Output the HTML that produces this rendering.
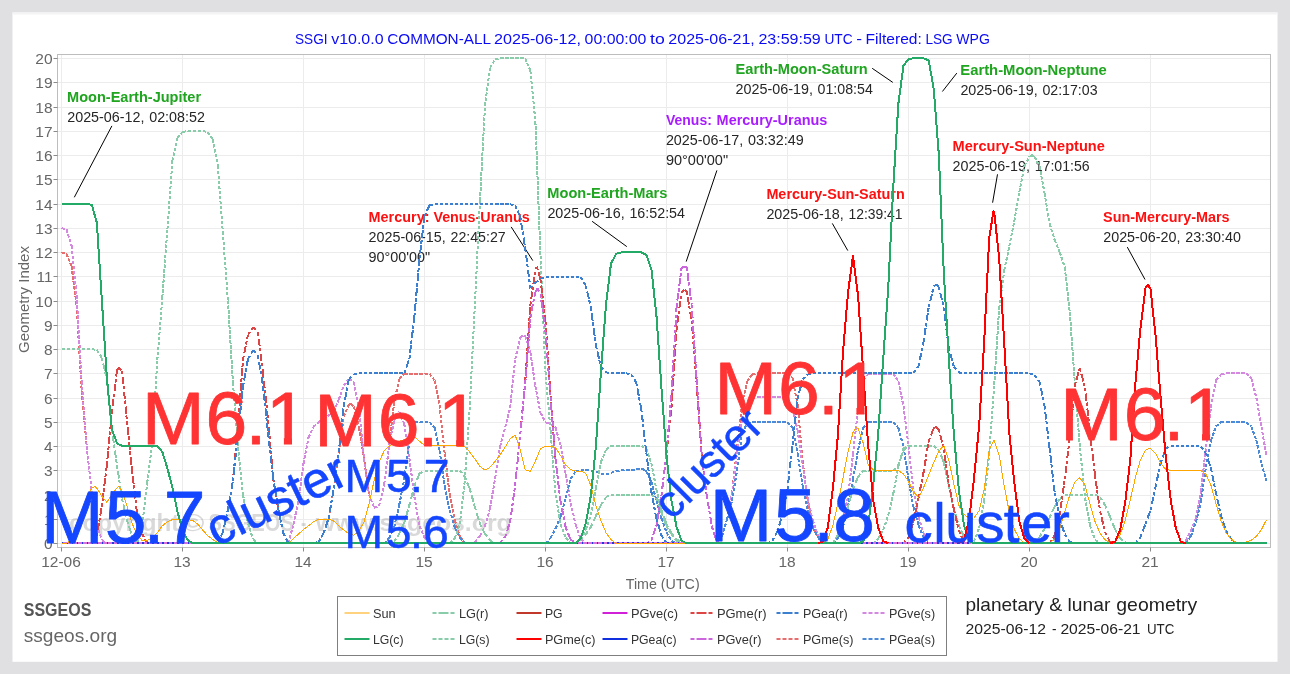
<!DOCTYPE html>
<html lang="en"><head><meta charset="utf-8"><title>SSGI planetary &amp; lunar geometry</title>
<style>html,body{margin:0;padding:0;background:#e0dfe2}body{width:1290px;height:674px;overflow:hidden}svg{display:block}text{font-family:"Liberation Sans", sans-serif;white-space:pre}</style></head><body>
<svg width="1290" height="674" viewBox="0 0 1290 674">
<rect x="0" y="0" width="1290" height="674" fill="#e0dfe2"/>
<rect x="12.5" y="12.5" width="1265" height="649.3" fill="#ffffff"/>
<rect x="12.5" y="12.5" width="1265" height="2" fill="#f4f4f5"/>
<text y="44.0" font-size="15" fill="#0a0af5"><tspan x="295.0" textLength="32.6" lengthAdjust="spacingAndGlyphs">SSGI</tspan> <tspan x="331.2" textLength="52.4" lengthAdjust="spacingAndGlyphs">v10.0.0</tspan> <tspan x="387.2" textLength="103.3" lengthAdjust="spacingAndGlyphs">COMMON-ALL</tspan> <tspan x="494.1" textLength="86.9" lengthAdjust="spacingAndGlyphs">2025-06-12,</tspan> <tspan x="584.6" textLength="61.8" lengthAdjust="spacingAndGlyphs">00:00:00</tspan> <tspan x="650.0" textLength="14.7" lengthAdjust="spacingAndGlyphs">to</tspan> <tspan x="668.3" textLength="86.5" lengthAdjust="spacingAndGlyphs">2025-06-21,</tspan> <tspan x="758.4" textLength="62.4" lengthAdjust="spacingAndGlyphs">23:59:59</tspan> <tspan x="824.4" textLength="28.2" lengthAdjust="spacingAndGlyphs">UTC</tspan> <tspan x="856.2" textLength="5.8" lengthAdjust="spacingAndGlyphs">-</tspan> <tspan x="865.6" textLength="56.2" lengthAdjust="spacingAndGlyphs">Filtered:</tspan> <tspan x="925.4" textLength="27.3" lengthAdjust="spacingAndGlyphs">LSG</tspan> <tspan x="956.3" textLength="33.6" lengthAdjust="spacingAndGlyphs">WPG</tspan></text>
<g stroke="#ececec" stroke-width="1" shape-rendering="crispEdges">
<line x1="58" y1="543.5" x2="1270" y2="543.5"/>
<line x1="58" y1="519.5" x2="1270" y2="519.5"/>
<line x1="58" y1="495.5" x2="1270" y2="495.5"/>
<line x1="58" y1="470.5" x2="1270" y2="470.5"/>
<line x1="58" y1="446.5" x2="1270" y2="446.5"/>
<line x1="58" y1="422.5" x2="1270" y2="422.5"/>
<line x1="58" y1="398.5" x2="1270" y2="398.5"/>
<line x1="58" y1="373.5" x2="1270" y2="373.5"/>
<line x1="58" y1="349.5" x2="1270" y2="349.5"/>
<line x1="58" y1="325.5" x2="1270" y2="325.5"/>
<line x1="58" y1="301.5" x2="1270" y2="301.5"/>
<line x1="58" y1="276.5" x2="1270" y2="276.5"/>
<line x1="58" y1="252.5" x2="1270" y2="252.5"/>
<line x1="58" y1="228.5" x2="1270" y2="228.5"/>
<line x1="58" y1="204.5" x2="1270" y2="204.5"/>
<line x1="58" y1="179.5" x2="1270" y2="179.5"/>
<line x1="58" y1="155.5" x2="1270" y2="155.5"/>
<line x1="58" y1="131.5" x2="1270" y2="131.5"/>
<line x1="58" y1="107.5" x2="1270" y2="107.5"/>
<line x1="58" y1="82.5" x2="1270" y2="82.5"/>
<line x1="58" y1="58.5" x2="1270" y2="58.5"/>
<line x1="61.5" y1="55" x2="61.5" y2="547"/>
<line x1="182.5" y1="55" x2="182.5" y2="547"/>
<line x1="303.5" y1="55" x2="303.5" y2="547"/>
<line x1="424.5" y1="55" x2="424.5" y2="547"/>
<line x1="545.5" y1="55" x2="545.5" y2="547"/>
<line x1="666.5" y1="55" x2="666.5" y2="547"/>
<line x1="787.5" y1="55" x2="787.5" y2="547"/>
<line x1="908.5" y1="55" x2="908.5" y2="547"/>
<line x1="1029.5" y1="55" x2="1029.5" y2="547"/>
<line x1="1150.5" y1="55" x2="1150.5" y2="547"/>
</g>
<text y="531.0" font-size="23" fill="#808080" font-weight="bold" fill-opacity="0.3"><tspan x="69.0" textLength="110.3" lengthAdjust="spacingAndGlyphs">copyright</tspan> <tspan x="181.6" textLength="22.9" lengthAdjust="spacingAndGlyphs">©</tspan> <tspan x="208.5" textLength="85.5" lengthAdjust="spacingAndGlyphs">SSGEOS</tspan> <tspan x="300.9" textLength="5.2" lengthAdjust="spacingAndGlyphs">-</tspan> <tspan x="315.7" textLength="196.0" lengthAdjust="spacingAndGlyphs">www.ssgeos.org</tspan></text>
<line x1="111.9" y1="125.9" x2="74.3" y2="197.3" stroke="#000" stroke-width="1"/>
<text x="67.1" y="101.8" font-size="14.5" fill="#1fa51f" font-weight="bold" textLength="134.0" lengthAdjust="spacingAndGlyphs">Moon-Earth-Jupiter</text>
<text y="121.8" font-size="14.5" fill="#262626"><tspan x="67.2" textLength="77.3" lengthAdjust="spacingAndGlyphs">2025-06-12,</tspan> <tspan x="149.2" textLength="55.7" lengthAdjust="spacingAndGlyphs">02:08:52</tspan></text>
<line x1="511.2" y1="226.9" x2="532.8" y2="260.6" stroke="#000" stroke-width="1"/>
<text y="221.8" font-size="14.5" fill="#ff1010" font-weight="bold"><tspan x="368.6" textLength="60.9" lengthAdjust="spacingAndGlyphs">Mercury:</tspan> <tspan x="433.4" textLength="96.3" lengthAdjust="spacingAndGlyphs">Venus-Uranus</tspan></text>
<text y="241.8" font-size="14.5" fill="#262626"><tspan x="368.5" textLength="77.3" lengthAdjust="spacingAndGlyphs">2025-06-15,</tspan> <tspan x="450.5" textLength="55.2" lengthAdjust="spacingAndGlyphs">22:45:27</tspan></text>
<text x="368.5" y="262.0" font-size="14.5" fill="#262626" textLength="61.6" lengthAdjust="spacingAndGlyphs">90°00'00"</text>
<line x1="592.1" y1="221.3" x2="626.8" y2="246.6" stroke="#000" stroke-width="1"/>
<text x="547.3" y="197.5" font-size="14.5" fill="#1fa51f" font-weight="bold" textLength="120.1" lengthAdjust="spacingAndGlyphs">Moon-Earth-Mars</text>
<text y="217.5" font-size="14.5" fill="#262626"><tspan x="547.4" textLength="77.3" lengthAdjust="spacingAndGlyphs">2025-06-16,</tspan> <tspan x="629.4" textLength="55.6" lengthAdjust="spacingAndGlyphs">16:52:54</tspan></text>
<line x1="716.9" y1="170.4" x2="686.2" y2="261.6" stroke="#000" stroke-width="1"/>
<text y="124.7" font-size="14.5" fill="#a81cff" font-weight="bold"><tspan x="666.0" textLength="45.8" lengthAdjust="spacingAndGlyphs">Venus:</tspan> <tspan x="716.6" textLength="110.8" lengthAdjust="spacingAndGlyphs">Mercury-Uranus</tspan></text>
<text y="144.7" font-size="14.5" fill="#262626"><tspan x="665.9" textLength="77.3" lengthAdjust="spacingAndGlyphs">2025-06-17,</tspan> <tspan x="747.9" textLength="55.9" lengthAdjust="spacingAndGlyphs">03:32:49</tspan></text>
<text x="665.9" y="164.9" font-size="14.5" fill="#262626" textLength="62.2" lengthAdjust="spacingAndGlyphs">90°00'00"</text>
<line x1="872.2" y1="68.3" x2="892.8" y2="82.4" stroke="#000" stroke-width="1"/>
<text x="735.6" y="73.7" font-size="14.5" fill="#1fa51f" font-weight="bold" textLength="132.2" lengthAdjust="spacingAndGlyphs">Earth-Moon-Saturn</text>
<text y="93.7" font-size="14.5" fill="#262626"><tspan x="735.6" textLength="77.3" lengthAdjust="spacingAndGlyphs">2025-06-19,</tspan> <tspan x="817.6" textLength="55.2" lengthAdjust="spacingAndGlyphs">01:08:54</tspan></text>
<line x1="956.8" y1="73.1" x2="942.4" y2="91.5" stroke="#000" stroke-width="1"/>
<text x="960.3" y="74.7" font-size="14.5" fill="#1fa51f" font-weight="bold" textLength="146.5" lengthAdjust="spacingAndGlyphs">Earth-Moon-Neptune</text>
<text y="94.7" font-size="14.5" fill="#262626"><tspan x="960.4" textLength="77.3" lengthAdjust="spacingAndGlyphs">2025-06-19,</tspan> <tspan x="1042.4" textLength="55.2" lengthAdjust="spacingAndGlyphs">02:17:03</tspan></text>
<line x1="997.5" y1="174.3" x2="992.6" y2="202.7" stroke="#000" stroke-width="1"/>
<text x="952.6" y="150.7" font-size="14.5" fill="#ff1010" font-weight="bold" textLength="152.2" lengthAdjust="spacingAndGlyphs">Mercury-Sun-Neptune</text>
<text y="170.7" font-size="14.5" fill="#262626"><tspan x="952.6" textLength="77.3" lengthAdjust="spacingAndGlyphs">2025-06-19,</tspan> <tspan x="1034.7" textLength="55.0" lengthAdjust="spacingAndGlyphs">17:01:56</tspan></text>
<line x1="832.3" y1="223.4" x2="847.8" y2="250.6" stroke="#000" stroke-width="1"/>
<text x="766.4" y="198.5" font-size="14.5" fill="#ff1010" font-weight="bold" textLength="138.3" lengthAdjust="spacingAndGlyphs">Mercury-Sun-Saturn</text>
<text y="218.5" font-size="14.5" fill="#262626"><tspan x="766.4" textLength="77.3" lengthAdjust="spacingAndGlyphs">2025-06-18,</tspan> <tspan x="848.4" textLength="54.2" lengthAdjust="spacingAndGlyphs">12:39:41</tspan></text>
<line x1="1127.3" y1="247.1" x2="1145.0" y2="279.5" stroke="#000" stroke-width="1"/>
<text x="1103.1" y="221.5" font-size="14.5" fill="#ff1010" font-weight="bold" textLength="126.5" lengthAdjust="spacingAndGlyphs">Sun-Mercury-Mars</text>
<text y="241.5" font-size="14.5" fill="#262626"><tspan x="1103.2" textLength="77.3" lengthAdjust="spacingAndGlyphs">2025-06-20,</tspan> <tspan x="1185.2" textLength="55.7" lengthAdjust="spacingAndGlyphs">23:30:40</tspan></text>
<g fill="none" shape-rendering="crispEdges">
<path d="M61.5 252.3L66.5 253.9M66.5 253.9L71.6 266.4M71.6 266.4L76.6 305.8M76.6 305.8L81.7 391.4M81.7 391.4L86.7 446.2M86.7 446.2L91.8 493.1M91.8 493.1L96.8 524.9M96.8 524.9L101.8 540.1M101.8 540.1L106.9 543.3M313.6 543.3L318.6 541.7M318.6 541.7L323.7 533.1M323.7 533.1L328.7 518.1M328.7 518.1L333.8 488.1M333.8 488.1L338.8 451.6M338.8 451.6L343.8 416.6M343.8 416.6L348.9 404.4M348.9 404.4L351.0 403.5M351.0 403.5L353.9 406.6M353.9 406.6L359.0 427.4M359.0 427.4L364.0 457.5M364.0 457.5L369.0 494.4M369.0 494.4L374.1 507.6M374.1 507.6L379.1 506.0M379.1 506.0L384.2 484.3M384.2 484.3L389.2 445.5M389.2 445.5L394.2 402.0M394.2 402.0L399.3 378.7M399.3 378.7L404.3 373.9M404.3 373.9L409.4 373.5M409.4 373.5L414.4 373.5M414.4 373.5L419.5 373.5M419.5 373.5L424.5 373.5M424.5 373.5L429.5 373.7M429.5 373.7L434.6 380.6M434.6 380.6L439.6 405.1M439.6 405.1L444.7 453.5M444.7 453.5L449.7 494.5M449.7 494.5L454.8 520.2M454.8 520.2L459.8 536.5M459.8 536.5L464.8 543.2M464.8 543.2L469.9 543.3M716.9 543.3L722.0 536.4M722.0 536.4L727.0 519.5M727.0 519.5L732.0 493.9M732.0 493.9L737.1 447.3M737.1 447.3L742.1 403.3M742.1 403.3L747.2 381.6M747.2 381.6L752.2 374.3M752.2 374.3L757.2 373.3M757.2 373.3L762.3 373.3M762.3 373.3L767.3 373.3M767.3 373.3L772.4 373.3M772.4 373.3L777.4 373.3M777.4 373.3L782.5 373.3M782.5 373.3L787.5 373.4M787.5 373.4L792.5 378.0M792.5 378.0L797.6 405.0M797.6 405.0L802.6 460.4M802.6 460.4L807.7 500.9M807.7 500.9L812.7 524.9M812.7 524.9L817.8 537.0M817.8 537.0L822.8 543.3" stroke="#e66e6e" stroke-width="2.0" stroke-dasharray="3.4 1.6"/>
<path d="M61.5 228.0L66.5 229.4M66.5 229.4L71.6 245.8M71.6 245.8L76.6 295.2M76.6 295.2L81.7 382.1M81.7 382.1L86.7 446.2M86.7 446.2L91.8 493.1M91.8 493.1L96.8 524.9M96.8 524.9L101.8 540.1M101.8 540.1L106.9 543.3M283.3 543.3L288.4 543.2M288.4 543.2L293.4 524.5M293.4 524.5L298.5 500.6M298.5 500.6L303.5 463.6M303.5 463.6L308.5 437.6M308.5 437.6L313.6 426.7M313.6 426.7L318.6 422.2M318.6 422.2L323.7 418.9M323.7 418.9L328.7 415.6M328.7 415.6L333.8 411.4M333.8 411.4L338.8 399.5M338.8 399.5L343.8 385.6M343.8 385.6L348.9 378.4M348.9 378.4L349.3 378.3M349.3 378.3L353.9 382.2M353.9 382.2L359.0 408.6M359.0 408.6L364.0 458.9M364.0 458.9L369.0 494.4M369.0 494.4L374.1 507.6M374.1 507.6L379.1 506.0M379.1 506.0L384.2 484.3M384.2 484.3L389.2 444.3M389.2 444.3L394.2 420.7M394.2 420.7L398.7 411.5M398.7 411.5L399.3 411.7M399.3 411.7L404.3 424.0M404.3 424.0L409.4 458.2M409.4 458.2L414.4 496.9M414.4 496.9L419.5 526.2M419.5 526.2L424.5 537.4M424.5 537.4L429.5 543.3M469.9 543.3L474.9 542.0M474.9 542.0L480.0 535.8M480.0 535.8L485.0 526.1M485.0 526.1L490.0 508.5M490.0 508.5L495.1 478.2M495.1 478.2L500.1 446.6M500.1 446.6L505.2 427.4M505.2 427.4L510.2 407.8M510.2 407.8L515.2 359.0M515.2 359.0L520.3 337.2M520.3 337.2L523.7 335.3M523.7 335.3L525.3 336.2M525.3 336.2L530.4 352.4M530.4 352.4L535.4 386.3M535.4 386.3L540.5 412.8M540.5 412.8L545.5 422.2M545.5 422.2L550.5 424.3M550.5 424.3L555.6 427.5M555.6 427.5L560.6 445.6M560.6 445.6L565.7 474.2M565.7 474.2L570.7 503.1M570.7 503.1L575.8 525.3M575.8 525.3L580.8 539.0M580.8 539.0L585.8 543.3M716.9 543.3L722.0 536.4M722.0 536.4L727.0 519.5M727.0 519.5L732.0 494.0M732.0 494.0L737.1 452.3M737.1 452.3L742.1 419.9M742.1 419.9L747.2 404.6M747.2 404.6L752.2 398.3M752.2 398.3L757.2 396.8M757.2 396.8L762.3 396.8M762.3 396.8L767.3 396.8M767.3 396.8L772.4 396.8M772.4 396.8L777.4 396.8M777.4 396.8L782.5 396.8M782.5 396.8L787.5 398.5M787.5 398.5L792.5 408.6M792.5 408.6L797.6 430.1M797.6 430.1L802.6 465.6M802.6 465.6L807.7 498.3M807.7 498.3L812.7 520.2M812.7 520.2L817.8 535.2M817.8 535.2L822.8 543.3M832.9 543.3L837.9 535.1M837.9 535.1L843.0 520.5M843.0 520.5L848.0 496.3M848.0 496.3L853.0 454.3M853.0 454.3L858.1 409.2M858.1 409.2L863.1 380.1M863.1 380.1L868.2 374.1M868.2 374.1L873.2 373.5M873.2 373.5L878.2 373.5M878.2 373.5L883.3 373.5M883.3 373.5L888.3 373.5M888.3 373.5L893.4 373.5M893.4 373.5L898.4 381.5M898.4 381.5L903.5 406.2M903.5 406.2L908.5 446.1M908.5 446.1L913.5 491.1M913.5 491.1L918.6 517.3M918.6 517.3L923.6 533.3M923.6 533.3L928.7 543.3M1180.8 543.3L1185.8 540.7M1185.8 540.7L1190.8 530.7M1190.8 530.7L1195.9 518.4M1195.9 518.4L1200.9 491.6M1200.9 491.6L1206.0 447.3M1206.0 447.3L1211.0 407.1M1211.0 407.1L1216.0 380.0M1216.0 380.0L1221.1 374.4M1221.1 374.4L1226.1 373.3M1226.1 373.3L1231.2 373.3M1231.2 373.3L1236.2 373.3M1236.2 373.3L1241.2 373.3M1241.2 373.3L1246.3 373.5M1246.3 373.5L1251.3 378.4M1251.3 378.4L1256.4 397.8M1256.4 397.8L1261.4 426.7M1261.4 426.7L1266.5 455.7" stroke="#d488e0" stroke-width="2.0" stroke-dasharray="3.4 1.6"/>
<path d="M384.2 543.3L389.2 538.2M389.2 538.2L394.2 527.2M394.2 527.2L399.3 504.7M399.3 504.7L404.3 478.9M404.3 478.9L409.4 440.8M409.4 440.8L414.4 422.4M414.4 422.4L419.5 422.0M419.5 422.0L424.5 422.0M424.5 422.0L429.5 422.0M429.5 422.0L434.6 427.7M434.6 427.7L439.6 450.7M439.6 450.7L444.7 486.6M444.7 486.6L449.7 510.1M449.7 510.1L454.8 527.6M454.8 527.6L459.8 537.7M459.8 537.7L464.8 543.3M545.5 543.3L550.5 538.0M550.5 538.0L555.6 528.5M555.6 528.5L560.6 516.6M560.6 516.6L565.7 498.2M565.7 498.2L570.7 478.5M570.7 478.5L575.8 471.2M575.8 471.2L580.8 470.2M580.8 470.2L585.4 470.0M585.4 470.0L585.8 470.0M585.8 470.0L590.9 470.6M590.9 470.6L595.9 471.7M595.9 471.7L601.0 473.5M601.0 473.5L606.0 474.2M606.0 474.2L611.0 472.9M611.0 472.9L616.1 471.2M616.1 471.2L621.1 470.5M621.1 470.5L626.2 470.1M626.2 470.1L631.2 469.8M631.2 469.8L636.2 469.5M636.2 469.5L641.3 469.4M641.3 469.4L643.5 469.4M643.5 469.4L646.3 471.5M646.3 471.5L651.4 481.6M651.4 481.6L656.4 500.6M656.4 500.6L661.5 518.5M661.5 518.5L666.5 532.3M666.5 532.3L671.5 540.8M671.5 540.8L676.6 543.3M716.9 543.3L722.0 536.5M722.0 536.5L727.0 519.4M727.0 519.4L732.0 500.8M732.0 500.8L737.1 470.0M737.1 470.0L742.1 433.1M742.1 433.1L747.2 423.1M747.2 423.1L752.2 422.0M752.2 422.0L757.2 422.0M757.2 422.0L762.3 422.0M762.3 422.0L767.3 422.0M767.3 422.0L772.4 422.0M772.4 422.0L777.4 422.0M777.4 422.0L782.5 422.0M782.5 422.0L787.5 422.0M787.5 422.0L792.5 427.9M792.5 427.9L797.6 453.8M797.6 453.8L802.6 486.0M802.6 486.0L807.7 509.8M807.7 509.8L812.7 527.3M812.7 527.3L817.8 537.0M817.8 537.0L822.8 543.3M827.8 543.3L832.9 543.0M832.9 543.0L837.9 537.8M837.9 537.8L843.0 527.2M843.0 527.2L848.0 506.7M848.0 506.7L853.0 479.3M853.0 479.3L858.1 449.5M858.1 449.5L863.1 428.3M863.1 428.3L868.2 422.0M868.2 422.0L873.2 422.0M873.2 422.0L878.2 422.0M878.2 422.0L883.3 422.0M883.3 422.0L888.3 422.0M888.3 422.0L893.4 422.0M893.4 422.0L898.4 428.1M898.4 428.1L903.5 446.6M903.5 446.6L908.5 479.4M908.5 479.4L913.5 507.0M913.5 507.0L918.6 525.4M918.6 525.4L923.6 537.5M923.6 537.5L928.7 543.3M1185.8 543.3L1190.8 536.3M1190.8 536.3L1195.9 522.5M1195.9 522.5L1200.9 501.8M1200.9 501.8L1206.0 467.0M1206.0 467.0L1211.0 440.5M1211.0 440.5L1216.0 426.3M1216.0 426.3L1221.1 422.1M1221.1 422.1L1226.1 422.0M1226.1 422.0L1231.2 422.0M1231.2 422.0L1236.2 422.0M1236.2 422.0L1241.2 422.0M1241.2 422.0L1246.3 422.2M1246.3 422.2L1251.3 426.6M1251.3 426.6L1256.4 440.3M1256.4 440.3L1261.4 463.9M1261.4 463.9L1266.5 480.9" stroke="#4a8ad8" stroke-width="2.0" stroke-dasharray="3.4 1.6"/>
<path d="M137.1 543.3L142.2 525.2M142.2 525.2L147.2 482.9M147.2 482.9L152.2 444.2M152.2 444.2L157.3 360.1M157.3 360.1L162.3 297.8M162.3 297.8L167.4 229.2M167.4 229.2L172.4 160.8M172.4 160.8L177.5 138.0M177.5 138.0L182.5 131.9M182.5 131.9L187.5 131.0M187.5 131.0L192.6 131.0M192.6 131.0L197.6 131.0M197.6 131.0L202.7 131.0M202.7 131.0L207.7 132.1M207.7 132.1L212.8 139.2M212.8 139.2L217.8 165.9M217.8 165.9L222.8 231.8M222.8 231.8L227.9 300.5M227.9 300.5L232.9 382.6M232.9 382.6L238.0 447.2M238.0 447.2L243.0 494.5M243.0 494.5L248.0 523.6M248.0 523.6L253.1 539.2M253.1 539.2L258.1 543.3M449.7 543.3L454.8 538.3M454.8 538.3L459.8 524.3M459.8 524.3L464.8 480.2M464.8 480.2L469.9 404.3M469.9 404.3L474.9 304.3M474.9 304.3L480.0 200.8M480.0 200.8L485.0 105.8M485.0 105.8L490.0 67.7M490.0 67.7L495.1 59.1M495.1 59.1L500.1 58.4M500.1 58.4L505.2 58.4M505.2 58.4L510.2 58.4M510.2 58.4L515.2 58.4M515.2 58.4L520.3 58.4M520.3 58.4L525.3 58.4M525.3 58.4L530.4 70.8M530.4 70.8L535.4 121.5M535.4 121.5L540.5 256.1M540.5 256.1L545.5 372.0M545.5 372.0L550.5 430.2M550.5 430.2L555.6 494.7M555.6 494.7L560.6 524.3M560.6 524.3L565.7 537.7M565.7 537.7L570.7 543.3M575.8 543.3L580.8 539.6M580.8 539.6L585.8 529.5M585.8 529.5L590.9 515.3M590.9 515.3L595.9 488.3M595.9 488.3L601.0 461.9M601.0 461.9L606.0 449.8M606.0 449.8L611.0 446.1M611.0 446.1L616.1 445.8M616.1 445.8L621.1 445.8M621.1 445.8L626.2 445.8M626.2 445.8L631.2 445.8M631.2 445.8L636.2 445.8M636.2 445.8L641.3 445.9M641.3 445.9L646.3 448.9M646.3 448.9L651.4 463.2M651.4 463.2L656.4 489.5M656.4 489.5L661.5 512.6M661.5 512.6L666.5 526.2M666.5 526.2L671.5 534.7M671.5 534.7L676.6 540.6M676.6 540.6L681.6 543.3M873.2 543.3L878.2 538.6M878.2 538.6L883.3 529.9M883.3 529.9L888.3 515.2M888.3 515.2L893.4 493.2M893.4 493.2L898.4 465.9M898.4 465.9L903.5 448.6M903.5 448.6L908.5 445.8M908.5 445.8L913.5 445.8M913.5 445.8L918.6 445.8M918.6 445.8L923.6 445.8M923.6 445.8L928.7 445.8M928.7 445.8L933.7 446.1M933.7 446.1L938.8 450.0M938.8 450.0L943.8 462.3M943.8 462.3L948.8 485.2M948.8 485.2L953.9 509.3M953.9 509.3L958.9 525.9M958.9 525.9L964.0 536.7M964.0 536.7L969.0 543.0M969.0 543.0L974.0 541.6M974.0 541.6L979.1 528.1M979.1 528.1L984.1 501.0M984.1 501.0L989.2 454.0M989.2 454.0L994.2 384.7M994.2 384.7L999.2 308.0M999.2 308.0L1004.3 270.3M1004.3 270.3L1009.3 246.2M1009.3 246.2L1014.4 220.8M1014.4 220.8L1019.4 191.7M1019.4 191.7L1024.5 165.9M1024.5 165.9L1029.5 156.7M1029.5 156.7L1032.0 155.3M1032.0 155.3L1034.5 156.8M1034.5 156.8L1039.6 166.4M1039.6 166.4L1044.6 193.3M1044.6 193.3L1049.7 224.0M1049.7 224.0L1054.7 240.0M1054.7 240.0L1059.8 252.4M1059.8 252.4L1064.8 267.5M1064.8 267.5L1069.8 312.3M1069.8 312.3L1074.9 383.6M1074.9 383.6L1079.9 447.9M1079.9 447.9L1085.0 497.6M1085.0 497.6L1090.0 525.2M1090.0 525.2L1095.0 539.9M1095.0 539.9L1100.1 543.3" stroke="#88ccaa" stroke-width="2.0" stroke-dasharray="3.4 1.6"/>
<path d="M61.5 349.3L66.5 349.3M66.5 349.3L71.6 349.3M71.6 349.3L76.6 349.3M76.6 349.3L81.7 349.3M81.7 349.3L86.7 349.3M86.7 349.3L91.8 349.3M91.8 349.3L96.8 349.7M96.8 349.7L101.8 357.7M101.8 357.7L106.9 379.4M106.9 379.4L111.9 429.7M111.9 429.7L117.0 465.2M117.0 465.2L122.0 498.6M122.0 498.6L127.0 520.6M127.0 520.6L132.1 535.7M132.1 535.7L137.1 543.3M389.2 543.3L394.2 541.6M394.2 541.6L399.3 533.7M399.3 533.7L404.3 522.5M404.3 522.5L409.4 505.0M409.4 505.0L414.4 485.6M414.4 485.6L419.5 473.7M419.5 473.7L424.5 470.5M424.5 470.5L429.5 470.5M429.5 470.5L434.6 470.5M434.6 470.5L439.6 470.5M439.6 470.5L444.7 470.5M444.7 470.5L449.7 470.5M449.7 470.5L454.8 470.5M454.8 470.5L459.8 470.5M459.8 470.5L464.8 476.8M464.8 476.8L469.9 489.2M469.9 489.2L474.9 507.1M474.9 507.1L480.0 523.9M480.0 523.9L485.0 533.8M485.0 533.8L490.0 540.2M490.0 540.2L495.1 543.3M575.8 543.3L580.8 539.8M580.8 539.8L585.8 534.3M585.8 534.3L590.9 526.8M590.9 526.8L595.9 516.0M595.9 516.0L601.0 504.7M601.0 504.7L606.0 497.1M606.0 497.1L611.0 494.7M611.0 494.7L616.1 494.5M616.1 494.5L621.1 494.5M621.1 494.5L626.2 494.5M626.2 494.5L631.2 494.5M631.2 494.5L636.2 494.5M636.2 494.5L641.3 494.5M641.3 494.5L646.3 494.5M646.3 494.5L651.4 494.5M651.4 494.5L656.4 498.1M656.4 498.1L661.5 510.6M661.5 510.6L666.5 524.0M666.5 524.0L671.5 533.3M671.5 533.3L676.6 539.2M676.6 539.2L681.6 542.8M681.6 542.8L686.7 543.3M832.9 543.3L837.9 534.9M837.9 534.9L843.0 522.5M843.0 522.5L848.0 507.0M848.0 507.0L853.0 488.6M853.0 488.6L858.1 476.7M858.1 476.7L863.1 470.8M863.1 470.8L868.2 470.7M868.2 470.7L873.2 470.7M873.2 470.7L878.2 470.7M878.2 470.7L883.3 470.6M883.3 470.6L888.3 470.6M888.3 470.6L893.4 470.5M893.4 470.5L898.4 464.9M898.4 464.9L903.5 450.2M903.5 450.2L908.5 445.9M908.5 445.9L913.5 445.8M913.5 445.8L918.6 445.8M918.6 445.8L923.6 445.8M923.6 445.8L928.7 445.8M928.7 445.8L933.7 446.1M933.7 446.1L938.8 450.0M938.8 450.0L943.8 462.3M943.8 462.3L948.8 485.2M948.8 485.2L953.9 509.3M953.9 509.3L958.9 525.9M958.9 525.9L964.0 536.7M964.0 536.7L969.0 543.0M969.0 543.0L974.0 543.3M1029.5 543.3L1034.5 542.4M1034.5 542.4L1039.6 536.8M1039.6 536.8L1044.6 528.9M1044.6 528.9L1049.7 517.5M1049.7 517.5L1054.7 506.3M1054.7 506.3L1059.8 498.8M1059.8 498.8L1064.8 495.6M1064.8 495.6L1069.8 494.5M1069.8 494.5L1074.9 494.5M1074.9 494.5L1079.9 494.5M1079.9 494.5L1085.0 494.5M1085.0 494.5L1090.0 494.5M1090.0 494.5L1095.0 494.5M1095.0 494.5L1100.1 497.2M1100.1 497.2L1105.1 505.3M1105.1 505.3L1110.2 517.1M1110.2 517.1L1115.2 529.7M1115.2 529.7L1120.2 538.1M1120.2 538.1L1125.3 542.6M1125.3 542.6L1130.3 543.3" stroke="#88ccaa" stroke-width="2.0" stroke-dasharray="3.4 2.6 7.5 1.5"/>
<path d="M91.8 543.3L96.8 536.3M96.8 536.3L101.8 506.6M101.8 506.6L106.9 464.8M106.9 464.8L111.9 412.3M111.9 412.3L117.0 370.1M117.0 370.1L119.0 367.7M119.0 367.7L122.0 370.7M122.0 370.7L127.0 421.5M127.0 421.5L132.1 470.2M132.1 470.2L137.1 514.1M137.1 514.1L142.2 533.9M142.2 533.9L147.2 543.0M147.2 543.0L152.2 543.3M212.8 543.3L217.8 541.5M217.8 541.5L222.8 532.5M222.8 532.5L227.9 509.9M227.9 509.9L232.9 480.9M232.9 480.9L238.0 426.6M238.0 426.6L243.0 359.3M243.0 359.3L248.0 334.7M248.0 334.7L253.1 327.1M253.1 327.1L253.6 327.0M253.6 327.0L258.1 332.9M258.1 332.9L263.2 374.9M263.2 374.9L268.2 421.1M268.2 421.1L273.2 478.6M273.2 478.6L278.3 509.3M278.3 509.3L283.3 533.1M283.3 533.1L288.4 543.3M495.1 543.3L500.1 542.6M500.1 542.6L505.2 537.0M505.2 537.0L510.2 521.3M510.2 521.3L515.2 484.9M515.2 484.9L520.3 434.4M520.3 434.4L525.3 380.6M525.3 380.6L530.4 304.9M530.4 304.9L535.4 269.3M535.4 269.3L536.8 266.7M536.8 266.7L540.5 279.5M540.5 279.5L545.5 321.6M545.5 321.6L550.5 395.8M550.5 395.8L555.6 460.4M555.6 460.4L560.6 501.9M560.6 501.9L565.7 527.4M565.7 527.4L570.7 539.7M570.7 539.7L575.8 543.3M646.3 543.3L651.4 540.7M651.4 540.7L656.4 525.6M656.4 525.6L661.5 495.1M661.5 495.1L666.5 453.1M666.5 453.1L671.5 406.9M671.5 406.9L676.6 328.9M676.6 328.9L681.6 292.0M681.6 292.0L684.5 290.0M684.5 290.0L686.7 291.2M686.7 291.2L691.7 320.9M691.7 320.9L696.8 386.0M696.8 386.0L701.8 456.4M701.8 456.4L706.8 495.9M706.8 495.9L711.9 526.6M711.9 526.6L716.9 542.1M716.9 542.1L722.0 543.3M903.5 543.3L908.5 537.0M908.5 537.0L913.5 521.4M913.5 521.4L918.6 497.2M918.6 497.2L923.6 472.1M923.6 472.1L928.7 441.0M928.7 441.0L933.7 428.3M933.7 428.3L935.9 426.8M935.9 426.8L938.8 429.4M938.8 429.4L943.8 449.5M943.8 449.5L948.8 483.7M948.8 483.7L953.9 509.5M953.9 509.5L958.9 530.5M958.9 530.5L964.0 542.5M964.0 542.5L969.0 543.3M1049.7 543.3L1054.7 535.5M1054.7 535.5L1059.8 514.3M1059.8 514.3L1064.8 479.1M1064.8 479.1L1069.8 437.3M1069.8 437.3L1074.9 385.5M1074.9 385.5L1079.7 368.3M1079.7 368.3L1079.9 368.3M1079.9 368.3L1085.0 387.6M1085.0 387.6L1090.0 432.9M1090.0 432.9L1095.0 475.3M1095.0 475.3L1100.1 511.4M1100.1 511.4L1105.1 532.2M1105.1 532.2L1110.2 542.2M1110.2 542.2L1115.2 543.3" stroke="#dd4444" stroke-width="2.0" stroke-dasharray="3.4 2.6 7.5 1.5"/>
<path d="M495.1 543.3L500.1 542.6M500.1 542.6L505.2 537.0M505.2 537.0L510.2 521.3M510.2 521.3L515.2 484.9M515.2 484.9L520.3 434.4M520.3 434.4L525.3 382.5M525.3 382.5L530.4 317.1M530.4 317.1L535.4 291.7M535.4 291.7L537.5 288.4M537.5 288.4L540.5 294.2M540.5 294.2L545.5 331.8M545.5 331.8L550.5 397.3M550.5 397.3L555.6 460.4M555.6 460.4L560.6 501.9M560.6 501.9L565.7 527.4M565.7 527.4L570.7 539.7M570.7 539.7L575.8 543.3M646.3 543.3L651.4 540.7M651.4 540.7L656.4 525.6M656.4 525.6L661.5 495.1M661.5 495.1L666.5 453.2M666.5 453.2L671.5 393.1M671.5 393.1L676.6 306.5M676.6 306.5L681.6 267.9M681.6 267.9L684.5 266.5M684.5 266.5L686.7 267.3M686.7 267.3L691.7 304.6M691.7 304.6L696.8 381.2M696.8 381.2L701.8 456.7M701.8 456.7L706.8 495.9M706.8 495.9L711.9 526.6M711.9 526.6L716.9 542.1M716.9 542.1L722.0 543.3" stroke="#cc66dd" stroke-width="2.0" stroke-dasharray="3.4 2.6 7.5 1.5"/>
<path d="M212.8 543.3L217.8 541.6M217.8 541.6L222.8 532.5M222.8 532.5L227.9 509.9M227.9 509.9L232.9 480.9M232.9 480.9L238.0 434.5M238.0 434.5L243.0 386.4M243.0 386.4L248.0 358.9M248.0 358.9L253.1 350.3M253.1 350.3L253.6 350.2M253.6 350.2L258.1 356.1M258.1 356.1L263.2 387.6M263.2 387.6L268.2 434.7M268.2 434.7L273.2 477.6M273.2 477.6L278.3 509.3M278.3 509.3L283.3 533.1M283.3 533.1L288.4 543.3M313.6 543.3L318.6 541.9M318.6 541.9L323.7 533.1M323.7 533.1L328.7 518.1M328.7 518.1L333.8 488.1M333.8 488.1L338.8 451.8M338.8 451.8L343.8 405.7M343.8 405.7L348.9 378.9M348.9 378.9L353.9 374.4M353.9 374.4L359.0 373.3M359.0 373.3L364.0 373.3M364.0 373.3L369.0 373.3M369.0 373.3L374.1 373.3M374.1 373.3L379.1 373.3M379.1 373.3L384.2 373.3M384.2 373.3L389.2 373.3M389.2 373.3L394.2 373.3M394.2 373.3L399.3 373.3M399.3 373.3L404.3 373.3M404.3 373.3L409.4 358.7M409.4 358.7L414.4 316.6M414.4 316.6L419.5 258.6M419.5 258.6L424.5 216.2M424.5 216.2L429.5 205.3M429.5 205.3L434.6 204.3M434.6 204.3L439.6 204.3M439.6 204.3L444.7 204.3M444.7 204.3L449.7 204.3M449.7 204.3L454.8 204.3M454.8 204.3L459.8 204.3M459.8 204.3L464.8 204.3M464.8 204.3L469.9 204.3M469.9 204.3L474.9 204.3M474.9 204.3L480.0 204.3M480.0 204.3L485.0 204.3M485.0 204.3L490.0 204.3M490.0 204.3L495.1 204.3M495.1 204.3L500.1 204.3M500.1 204.3L505.2 204.3M505.2 204.3L510.2 204.3M510.2 204.3L515.2 205.4M515.2 205.4L520.3 216.8M520.3 216.8L525.3 249.0M525.3 249.0L530.4 288.4M530.4 288.4L535.4 282.6M535.4 282.6L540.5 278.8M540.5 278.8L545.5 277.0M545.5 277.0L550.5 277.0M550.5 277.0L555.6 277.0M555.6 277.0L560.6 277.0M560.6 277.0L565.7 277.0M565.7 277.0L570.7 277.0M570.7 277.0L575.8 277.0M575.8 277.0L580.8 277.1M580.8 277.1L585.8 285.7M585.8 285.7L590.9 307.5M590.9 307.5L595.9 345.5M595.9 345.5L601.0 366.9M601.0 366.9L606.0 372.2M606.0 372.2L611.0 373.3M611.0 373.3L616.1 373.3M616.1 373.3L621.1 373.3M621.1 373.3L626.2 373.3M626.2 373.3L631.2 374.3M631.2 374.3L636.2 382.5M636.2 382.5L641.3 408.9M641.3 408.9L646.3 452.5M646.3 452.5L651.4 492.0M651.4 492.0L656.4 518.5M656.4 518.5L661.5 535.3M661.5 535.3L666.5 543.3M767.3 543.3L772.4 540.8M772.4 540.8L777.4 531.4M777.4 531.4L782.5 514.5M782.5 514.5L787.5 489.0M787.5 489.0L792.5 444.8M792.5 444.8L797.6 398.5M797.6 398.5L802.6 379.4M802.6 379.4L807.7 374.1M807.7 374.1L812.7 373.3M812.7 373.3L817.8 373.3M817.8 373.3L822.8 373.3M822.8 373.3L827.8 373.3M827.8 373.3L832.9 373.3M832.9 373.3L837.9 373.3M837.9 373.3L843.0 373.3M843.0 373.3L848.0 373.3M848.0 373.3L853.0 373.3M853.0 373.3L858.1 373.3M858.1 373.3L863.1 373.3M863.1 373.3L868.2 373.3M868.2 373.3L873.2 373.3M873.2 373.3L878.2 373.3M878.2 373.3L883.3 373.3M883.3 373.3L888.3 373.3M888.3 373.3L893.4 373.3M893.4 373.3L898.4 373.3M898.4 373.3L903.5 373.3M903.5 373.3L908.5 373.3M908.5 373.3L913.5 373.0M913.5 373.0L918.6 366.0M918.6 366.0L923.6 341.3M923.6 341.3L928.7 307.2M928.7 307.2L933.7 286.7M933.7 286.7L936.1 284.4M936.1 284.4L938.8 286.9M938.8 286.9L943.8 307.6M943.8 307.6L948.8 348.1M948.8 348.1L953.9 367.0M953.9 367.0L958.9 372.4M958.9 372.4L964.0 373.3M964.0 373.3L969.0 373.3M969.0 373.3L974.0 373.3M974.0 373.3L979.1 373.3M979.1 373.3L984.1 373.3M984.1 373.3L989.2 373.3M989.2 373.3L994.2 373.3M994.2 373.3L999.2 373.3M999.2 373.3L1004.3 373.3M1004.3 373.3L1009.3 373.3M1009.3 373.3L1014.4 373.3M1014.4 373.3L1019.4 373.3M1019.4 373.3L1024.5 373.3M1024.5 373.3L1029.5 373.3M1029.5 373.3L1034.5 375.1M1034.5 375.1L1039.6 382.2M1039.6 382.2L1044.6 406.1M1044.6 406.1L1049.7 449.2M1049.7 449.2L1054.7 492.7M1054.7 492.7L1059.8 519.3M1059.8 519.3L1064.8 534.4M1064.8 534.4L1069.8 541.9M1069.8 541.9L1074.9 543.3M1135.4 543.3L1140.4 537.1M1140.4 537.1L1145.5 524.0M1145.5 524.0L1150.5 510.1M1150.5 510.1L1155.5 486.8M1155.5 486.8L1160.6 463.1M1160.6 463.1L1165.6 448.6M1165.6 448.6L1170.7 445.8M1170.7 445.8L1175.7 445.8M1175.7 445.8L1180.8 445.8M1180.8 445.8L1185.8 445.8M1185.8 445.8L1190.8 445.8M1190.8 445.8L1195.9 445.8M1195.9 445.8L1200.9 446.6M1200.9 446.6L1206.0 452.9M1206.0 452.9L1211.0 468.8M1211.0 468.8L1216.0 493.0M1216.0 493.0L1221.1 515.7M1221.1 515.7L1226.1 530.7M1226.1 530.7L1231.2 539.0M1231.2 539.0L1236.2 543.3" stroke="#3a7fd0" stroke-width="2.0" stroke-dasharray="3.4 2.6 7.5 1.5"/>
<line x1="61.5" y1="543.3" x2="192.6" y2="543.3" stroke="#d970dc" stroke-width="2"/>
<line x1="61.5" y1="543.3" x2="192.6" y2="543.3" stroke="#1a3ae0" stroke-width="2" stroke-dasharray="1.6 3.44"/>
<line x1="576.7" y1="543.3" x2="684.2" y2="543.3" stroke="#d970dc" stroke-width="2"/>
<line x1="576.7" y1="543.3" x2="684.2" y2="543.3" stroke="#1a3ae0" stroke-width="2" stroke-dasharray="1.6 3.44"/>
<line x1="861.3" y1="543.3" x2="971.2" y2="543.3" stroke="#d970dc" stroke-width="2"/>
<line x1="861.3" y1="543.3" x2="971.2" y2="543.3" stroke="#1a3ae0" stroke-width="2" stroke-dasharray="1.6 3.44"/>
<path d="M61.5 543.3L66.5 543.3L71.6 540.0L76.6 528.5L81.7 515.5L86.7 498.2L91.8 488.0L94.7 486.5L96.8 488.1L101.8 496.1L106.9 502.3L111.9 494.6L117.0 487.7L119.0 486.5L122.0 490.8L127.0 506.3L132.1 523.6L137.1 534.6L142.2 540.7L147.2 540.7L152.2 537.3L157.3 532.7L162.3 525.9L167.4 521.6L172.4 519.7L177.5 519.3L182.5 519.2L187.5 519.6L192.6 520.4L197.6 524.0L202.7 530.0L207.7 535.7L212.8 539.5L217.8 542.8L222.8 543.3L227.9 543.3L232.9 543.3L238.0 543.3L243.0 543.3L248.0 543.3L253.1 543.3L258.1 543.3L263.2 543.3L268.2 543.3L273.2 543.3L278.3 543.3L283.3 543.3L288.4 543.2L293.4 538.6L298.5 534.0L303.5 529.6L308.5 525.7L313.6 521.8L318.6 519.4L323.7 519.2L328.7 519.2L333.8 521.1L338.8 526.0L343.8 530.1L348.9 533.9L353.9 535.2L359.0 530.7L364.0 522.1L369.0 503.9L374.1 480.5L379.1 461.9L384.2 450.9L389.2 446.0L394.2 443.1L399.3 441.1L404.3 439.6L409.4 438.2L414.4 437.4L415.2 437.4L419.5 441.3L424.5 445.5L429.5 445.7L434.6 445.8L439.6 445.8L444.7 445.9L449.7 445.9L454.8 445.9L459.8 446.1L464.8 446.6L469.9 452.3L474.9 458.9L480.0 466.4L485.0 470.0L490.0 467.3L495.1 461.3L500.1 454.9L505.2 447.0L510.2 438.7L515.0 435.1L515.2 435.2L520.3 449.7L525.3 469.8L530.4 471.5L535.4 460.9L540.5 448.7L545.5 446.2L550.5 446.2L555.6 447.6L560.6 455.6L565.7 465.1L570.7 469.6L575.8 471.0L580.8 471.2L585.8 473.4L590.9 485.6L595.9 505.4L601.0 520.8L606.0 532.7L611.0 539.6L616.1 543.3L621.1 543.3L626.2 543.3L631.2 543.3L636.2 543.3L641.3 543.3L646.3 543.3L651.4 543.3L656.4 543.3L661.5 543.3L666.5 543.3L671.5 543.3L676.6 543.3L681.6 543.3L686.7 543.3L691.7 543.3L696.8 543.3L701.8 543.3L706.8 543.3L711.9 543.3L716.9 543.3L722.0 543.3L727.0 543.3L732.0 543.3L737.1 543.3L742.1 543.3L747.2 543.3L752.2 543.3L757.2 543.3L762.3 543.3L767.3 543.3L772.4 543.3L777.4 543.3L782.5 543.3L787.5 543.3L792.5 543.3L797.6 543.3L802.6 543.3L807.7 543.3L812.7 543.3L817.8 543.3L822.8 543.3L827.8 539.4L832.9 525.2L837.9 503.4L843.0 477.7L848.0 452.2L853.0 432.6L856.5 427.4L858.1 428.6L863.1 442.8L868.2 464.7L873.2 469.7L878.2 470.4L883.3 470.4L888.3 470.4L893.4 470.4L898.4 470.6L903.5 473.9L908.5 481.5L913.5 491.6L918.6 497.5L923.6 487.6L928.7 475.2L933.7 462.5L938.8 451.5L943.7 445.2L943.8 445.2L948.8 460.0L953.9 484.2L958.9 505.4L964.0 514.5L969.0 518.1L974.0 518.0L979.1 510.8L984.1 489.6L989.2 450.1L993.8 440.3L994.2 440.4L999.2 455.3L1004.3 486.7L1009.3 512.0L1014.4 529.3L1019.4 539.0L1024.5 542.9L1029.5 543.3L1034.5 543.3L1039.6 543.3L1044.6 543.3L1049.7 543.3L1054.7 538.8L1059.8 528.4L1064.8 511.7L1069.8 494.9L1074.9 481.9L1079.7 477.8L1079.9 477.8L1085.0 485.0L1090.0 504.2L1095.0 521.5L1100.1 533.4L1105.1 539.8L1110.2 542.5L1115.2 541.1L1120.2 534.7L1125.3 520.3L1130.3 499.6L1135.4 477.6L1140.4 459.8L1145.5 450.3L1149.5 448.5L1150.5 448.7L1155.5 453.3L1160.6 463.3L1165.6 469.3L1170.7 470.5L1175.7 470.5L1180.8 470.5L1185.8 470.5L1190.8 470.5L1195.9 470.5L1200.9 470.5L1206.0 474.3L1211.0 485.4L1216.0 503.6L1221.1 520.9L1226.1 532.9L1231.2 539.2L1236.2 542.1L1241.2 542.9L1246.3 542.1L1251.3 540.3L1256.4 536.3L1261.4 529.7L1266.5 519.7" stroke="#ffa500" stroke-width="1.0" stroke-linejoin="round"/>
<path d="M61.5 204.0L66.5 204.0L71.6 204.0L76.6 204.0L81.7 204.0L86.7 204.0L91.8 204.8L96.8 222.4L101.8 299.6L106.9 378.2L111.9 429.2L117.0 443.5L122.0 445.8L127.0 445.9L132.1 445.9L137.1 445.9L142.2 445.9L147.2 445.9L152.2 445.9L157.3 446.0L162.3 451.8L167.4 468.3L172.4 487.5L177.5 511.6L182.5 530.9L187.5 539.8L192.6 543.3L197.6 543.3L202.7 543.3L207.7 543.3L212.8 543.3L217.8 543.3L222.8 543.3L227.9 543.3L232.9 543.3L238.0 543.3L243.0 543.3L248.0 543.3L253.1 543.3L258.1 543.3L263.2 543.3L268.2 543.3L273.2 543.3L278.3 543.3L283.3 543.3L288.4 543.3L293.4 543.3L298.5 543.3L303.5 543.3L308.5 543.3L313.6 543.3L318.6 543.3L323.7 543.3L328.7 543.3L333.8 543.3L338.8 543.3L343.8 543.3L348.9 543.3L353.9 543.3L359.0 543.3L364.0 543.3L369.0 543.3L374.1 543.3L379.1 543.3L384.2 543.3L389.2 543.3L394.2 543.3L399.3 543.3L404.3 543.3L409.4 543.3L414.4 543.3L419.5 543.3L424.5 543.3L429.5 543.3L434.6 543.3L439.6 543.3L444.7 543.3L449.7 543.3L454.8 543.3L459.8 543.3L464.8 543.3L469.9 543.3L474.9 543.3L480.0 543.3L485.0 543.3L490.0 543.3L495.1 543.3L500.1 543.3L505.2 543.3L510.2 543.3L515.2 543.3L520.3 543.3L525.3 543.3L530.4 543.3L535.4 543.3L540.5 543.3L545.5 543.3L550.5 543.3L555.6 543.3L560.6 543.3L565.7 543.3L570.7 543.3L575.8 543.3L580.8 538.1L585.8 523.2L590.9 495.5L595.9 446.2L601.0 371.1L606.0 304.1L611.0 263.6L616.1 253.8L621.1 252.4L626.2 252.3L631.2 252.3L636.2 252.3L641.3 252.4L646.3 254.8L651.4 269.2L656.4 314.8L661.5 388.5L666.5 455.4L671.5 500.8L676.6 527.2L681.6 540.8L686.7 543.3L691.7 543.3L696.8 543.3L701.8 543.3L706.8 543.3L711.9 543.3L716.9 543.3L722.0 543.3L727.0 543.3L732.0 543.3L737.1 543.3L742.1 543.3L747.2 543.3L752.2 543.3L757.2 543.3L762.3 543.3L767.3 543.3L772.4 543.3L777.4 543.3L782.5 543.3L787.5 543.3L792.5 543.3L797.6 543.3L802.6 543.3L807.7 543.3L812.7 543.3L817.8 543.3L822.8 543.3L827.8 543.3L832.9 543.3L837.9 543.3L843.0 543.3L848.0 543.3L853.0 543.3L858.1 543.3L863.1 541.7L868.2 526.0L873.2 484.8L878.2 434.2L883.3 357.7L888.3 286.5L893.4 184.7L898.4 103.3L903.5 65.6L908.5 59.0L913.5 58.3L918.6 58.3L923.6 58.3L928.7 60.3L933.7 88.7L938.8 154.2L943.8 272.8L948.8 357.9L953.9 434.3L958.9 490.5L964.0 525.4L969.0 540.9L974.0 543.3L979.1 543.3L984.1 543.3L989.2 543.3L994.2 543.3L999.2 543.3L1004.3 543.3L1009.3 543.3L1014.4 543.3L1019.4 543.3L1024.5 543.3L1029.5 543.3L1034.5 543.3L1039.6 543.3L1044.6 543.3L1049.7 543.3L1054.7 543.3L1059.8 543.3L1064.8 543.3L1069.8 543.3L1074.9 543.3L1079.9 543.3L1085.0 543.3L1090.0 543.3L1095.0 543.3L1100.1 543.3L1105.1 543.3L1110.2 543.3L1115.2 543.3L1120.2 543.3L1125.3 543.3L1130.3 543.3L1135.4 543.3L1140.4 543.3L1145.5 543.3L1150.5 543.3L1155.5 543.3L1160.6 543.3L1165.6 543.3L1170.7 543.3L1175.7 543.3L1180.8 543.3L1185.8 543.3L1190.8 543.3L1195.9 543.3L1200.9 543.3L1206.0 543.3L1211.0 543.3L1216.0 543.3L1221.1 543.3L1226.1 543.3L1231.2 543.3L1236.2 543.3L1241.2 543.3L1246.3 543.3L1251.3 543.3L1256.4 543.3L1261.4 543.3L1266.5 543.3" stroke="#22aa66" stroke-width="2.0" stroke-linejoin="round"/>
<path d="M817.8 543.3L822.8 541.5L827.8 527.6L832.9 488.1L837.9 435.5L843.0 352.3L848.0 292.7L853.0 255.8L853.0 255.8L858.1 296.1L863.1 370.1L868.2 446.0L873.2 499.9L878.2 527.6L883.3 541.1L888.3 543.3M958.9 543.3L964.0 539.7L969.0 520.5L974.0 478.5L979.1 426.4L984.1 343.1L989.2 238.2L993.5 211.0L994.2 212.0L999.2 258.3L1004.3 344.6L1009.3 432.7L1014.4 483.3L1019.4 521.8L1024.5 538.7L1029.5 543.3M1110.2 543.3L1115.2 541.6L1120.2 529.7L1125.3 501.6L1130.3 459.8L1135.4 383.0L1140.4 328.7L1145.5 288.2L1148.0 284.8L1150.5 289.2L1155.5 334.9L1160.6 397.2L1165.6 455.2L1170.7 500.1L1175.7 527.4L1180.8 541.7L1185.8 543.3" stroke="#ff0000" stroke-width="2.0" stroke-linejoin="round"/>
</g>
<rect x="57.5" y="54.5" width="1213" height="493" fill="none" stroke="#bdbdbd" stroke-width="1"/>
<g stroke="#8a8a8a" stroke-width="1">
<line x1="53.5" y1="543.5" x2="57.5" y2="543.5"/>
<line x1="53.5" y1="519.5" x2="57.5" y2="519.5"/>
<line x1="53.5" y1="495.5" x2="57.5" y2="495.5"/>
<line x1="53.5" y1="470.5" x2="57.5" y2="470.5"/>
<line x1="53.5" y1="446.5" x2="57.5" y2="446.5"/>
<line x1="53.5" y1="422.5" x2="57.5" y2="422.5"/>
<line x1="53.5" y1="398.5" x2="57.5" y2="398.5"/>
<line x1="53.5" y1="373.5" x2="57.5" y2="373.5"/>
<line x1="53.5" y1="349.5" x2="57.5" y2="349.5"/>
<line x1="53.5" y1="325.5" x2="57.5" y2="325.5"/>
<line x1="53.5" y1="301.5" x2="57.5" y2="301.5"/>
<line x1="53.5" y1="276.5" x2="57.5" y2="276.5"/>
<line x1="53.5" y1="252.5" x2="57.5" y2="252.5"/>
<line x1="53.5" y1="228.5" x2="57.5" y2="228.5"/>
<line x1="53.5" y1="204.5" x2="57.5" y2="204.5"/>
<line x1="53.5" y1="179.5" x2="57.5" y2="179.5"/>
<line x1="53.5" y1="155.5" x2="57.5" y2="155.5"/>
<line x1="53.5" y1="131.5" x2="57.5" y2="131.5"/>
<line x1="53.5" y1="107.5" x2="57.5" y2="107.5"/>
<line x1="53.5" y1="82.5" x2="57.5" y2="82.5"/>
<line x1="53.5" y1="58.5" x2="57.5" y2="58.5"/>
<line x1="61.5" y1="547.5" x2="61.5" y2="551.5"/>
<line x1="182.5" y1="547.5" x2="182.5" y2="551.5"/>
<line x1="303.5" y1="547.5" x2="303.5" y2="551.5"/>
<line x1="424.5" y1="547.5" x2="424.5" y2="551.5"/>
<line x1="545.5" y1="547.5" x2="545.5" y2="551.5"/>
<line x1="666.5" y1="547.5" x2="666.5" y2="551.5"/>
<line x1="787.5" y1="547.5" x2="787.5" y2="551.5"/>
<line x1="908.5" y1="547.5" x2="908.5" y2="551.5"/>
<line x1="1029.5" y1="547.5" x2="1029.5" y2="551.5"/>
<line x1="1150.5" y1="547.5" x2="1150.5" y2="551.5"/>
</g>
<g fill="#666666" font-size="15.5">
<text x="52.6" y="548.6" text-anchor="end">0</text>
<text x="52.6" y="524.6" text-anchor="end">1</text>
<text x="52.6" y="500.6" text-anchor="end">2</text>
<text x="52.6" y="475.6" text-anchor="end">3</text>
<text x="52.6" y="451.6" text-anchor="end">4</text>
<text x="52.6" y="427.6" text-anchor="end">5</text>
<text x="52.6" y="403.6" text-anchor="end">6</text>
<text x="52.6" y="378.6" text-anchor="end">7</text>
<text x="52.6" y="354.6" text-anchor="end">8</text>
<text x="52.6" y="330.6" text-anchor="end">9</text>
<text x="52.6" y="306.6" text-anchor="end">10</text>
<text x="52.6" y="281.6" text-anchor="end">11</text>
<text x="52.6" y="257.6" text-anchor="end">12</text>
<text x="52.6" y="233.6" text-anchor="end">13</text>
<text x="52.6" y="209.6" text-anchor="end">14</text>
<text x="52.6" y="184.6" text-anchor="end">15</text>
<text x="52.6" y="160.6" text-anchor="end">16</text>
<text x="52.6" y="136.6" text-anchor="end">17</text>
<text x="52.6" y="112.6" text-anchor="end">18</text>
<text x="52.6" y="87.6" text-anchor="end">19</text>
<text x="52.6" y="63.6" text-anchor="end">20</text>
<text x="61.0" y="567" text-anchor="middle">12-06</text>
<text x="182.0" y="567" text-anchor="middle">13</text>
<text x="303.0" y="567" text-anchor="middle">14</text>
<text x="424.0" y="567" text-anchor="middle">15</text>
<text x="545.0" y="567" text-anchor="middle">16</text>
<text x="666.0" y="567" text-anchor="middle">17</text>
<text x="787.0" y="567" text-anchor="middle">18</text>
<text x="908.0" y="567" text-anchor="middle">19</text>
<text x="1029.0" y="567" text-anchor="middle">20</text>
<text x="1150.0" y="567" text-anchor="middle">21</text>
<text x="662.7" y="588.5" text-anchor="middle" textLength="74" lengthAdjust="spacingAndGlyphs">Time (UTC)</text>
<text transform="translate(28.9,299.5) rotate(-90)" text-anchor="middle" textLength="107" lengthAdjust="spacingAndGlyphs">Geometry Index</text>
</g>
<clipPath id="cf1"><polygon points="127.0,369.3 332.0,369.3 332.0,438.1 292.0,438.1 292.0,459.3 283.9,459.3 283.9,438.1 267.4,438.1 267.4,459.3 127.0,459.3"/></clipPath>
<text x="142.1 205.6 245.4 265.9" y="444.3" font-size="75.0" fill="#ff3333" stroke="#ff3333" stroke-width="0.79" stroke-linejoin="round" clip-path="url(#cf1)">M6.1</text>
<clipPath id="cf2"><polygon points="299.2,371.3 504.2,371.3 504.2,440.1 464.2,440.1 464.2,461.3 456.1,461.3 456.1,440.1 439.6,440.1 439.6,461.3 299.2,461.3"/></clipPath>
<text x="314.3 377.8 417.6 438.1" y="446.3" font-size="75.0" fill="#ff3333" stroke="#ff3333" stroke-width="0.79" stroke-linejoin="round" clip-path="url(#cf2)">M6.1</text>
<clipPath id="cf3"><polygon points="699.5,339.1 904.5,339.1 904.5,407.9 864.5,407.9 864.5,429.1 856.4,429.1 856.4,407.9 839.9,407.9 839.9,429.1 699.5,429.1"/></clipPath>
<text x="714.6 778.1 817.9 838.4" y="414.1" font-size="75.0" fill="#ff3333" stroke="#ff3333" stroke-width="0.79" stroke-linejoin="round" clip-path="url(#cf3)">M6.1</text>
<clipPath id="cf4"><polygon points="1045.1,364.9 1250.1,364.9 1250.1,433.7 1210.1,433.7 1210.1,454.9 1202.0,454.9 1202.0,433.7 1185.5,433.7 1185.5,454.9 1045.1,454.9"/></clipPath>
<text x="1060.2 1123.7 1163.5 1184.0" y="439.9" font-size="75.0" fill="#ff3333" stroke="#ff3333" stroke-width="0.79" stroke-linejoin="round" clip-path="url(#cf4)">M6.1</text>
<text x="41.1 104.8 143.5 163.7" y="543.2" font-size="75.0" fill="#1446ff" stroke="#1446ff" stroke-width="0.79" stroke-linejoin="round">M5.7</text>
<text x="709.7 774.1 813.3 833.3" y="541.3" font-size="75.0" fill="#1446ff" stroke="#1446ff" stroke-width="0.79" stroke-linejoin="round">M5.8</text>
<text x="904.4 933.3 945.2 976.3 1003.8 1021.0 1051.0" y="541.6" font-size="56.4" fill="#1446ff" stroke="#1446ff" stroke-width="0.59" stroke-linejoin="round">cluster</text>
<text x="344.6 386.1 410.0 423.8" y="492.1" font-size="46.3" fill="#1446ff" stroke="#1446ff" stroke-width="0.49" stroke-linejoin="round">M5.7</text>
<text x="344.6 385.7 410.0 422.9" y="547.9" font-size="46.3" fill="#1446ff" stroke="#1446ff" stroke-width="0.49" stroke-linejoin="round">M5.6</text>
<g transform="translate(216.2,546.9) rotate(-25.5)"><text x="0.0 25.4 36.6 64.8 90.2 104.2 132.4" y="0" font-size="50.7" fill="#1446ff" stroke="#1446ff" stroke-width="0.53" stroke-linejoin="round">cluster</text></g>
<g transform="translate(671.9,521.1) rotate(-45.0)"><text x="0.0 22.5 32.5 57.5 80.0 92.5 117.6" y="0" font-size="45" fill="#1446ff" stroke="#1446ff" stroke-width="0.47" stroke-linejoin="round">cluster</text></g>
<text x="23.8" y="616.0" font-size="17.5" fill="#555555" font-weight="bold" textLength="67.5" lengthAdjust="spacingAndGlyphs">SSGEOS</text>
<text x="23.8" y="641.7" font-size="18.5" fill="#666666" textLength="93.3" lengthAdjust="spacingAndGlyphs">ssgeos.org</text>
<text y="611.0" font-size="19" fill="#222222"><tspan x="965.5" textLength="78.4" lengthAdjust="spacingAndGlyphs">planetary</tspan> <tspan x="1049.3" textLength="13.0" lengthAdjust="spacingAndGlyphs">&amp;</tspan> <tspan x="1067.5" textLength="42.8" lengthAdjust="spacingAndGlyphs">lunar</tspan> <tspan x="1116.3" textLength="81.0" lengthAdjust="spacingAndGlyphs">geometry</tspan></text>
<text y="633.8" font-size="15" fill="#222222"><tspan x="965.5" textLength="80.5" lengthAdjust="spacingAndGlyphs">2025-06-12</tspan> <tspan x="1052.0" textLength="4.5" lengthAdjust="spacingAndGlyphs">-</tspan> <tspan x="1060.4" textLength="80.2" lengthAdjust="spacingAndGlyphs">2025-06-21</tspan> <tspan x="1146.9" textLength="27.4" lengthAdjust="spacingAndGlyphs">UTC</tspan></text>
<rect x="337.5" y="596.5" width="609" height="59" fill="#ffffff" stroke="#7f7f7f" stroke-width="1"/>
<line x1="344.5" y1="613.0" x2="369.5" y2="613.0" stroke="#ffa500" stroke-width="1.0"/>
<text x="372.9" y="617.7" font-size="12.5" fill="#333333" textLength="22.7" lengthAdjust="spacingAndGlyphs">Sun</text>
<line x1="432.5" y1="613.0" x2="454.5" y2="613.0" stroke="#88ccaa" stroke-width="2.0" stroke-dasharray="4 2 10 2 4 40"/>
<text x="458.9" y="617.7" font-size="12.5" fill="#333333" textLength="29.7" lengthAdjust="spacingAndGlyphs">LG(r)</text>
<line x1="516.5" y1="613.0" x2="541.5" y2="613.0" stroke="#c0392b" stroke-width="2.0"/>
<text x="544.9" y="617.7" font-size="12.5" fill="#333333" textLength="17.7" lengthAdjust="spacingAndGlyphs">PG</text>
<line x1="602.5" y1="613.0" x2="627.5" y2="613.0" stroke="#d020d8" stroke-width="2.0"/>
<text x="630.9" y="617.7" font-size="12.5" fill="#333333" textLength="47.2" lengthAdjust="spacingAndGlyphs">PGve(c)</text>
<line x1="690.5" y1="613.0" x2="712.5" y2="613.0" stroke="#dd4444" stroke-width="2.0" stroke-dasharray="4 2 10 2 4 40"/>
<text x="716.9" y="617.7" font-size="12.5" fill="#333333" textLength="49.7" lengthAdjust="spacingAndGlyphs">PGme(r)</text>
<line x1="776.5" y1="613.0" x2="798.5" y2="613.0" stroke="#3a7fd0" stroke-width="2.0" stroke-dasharray="4 2 10 2 4 40"/>
<text x="802.9" y="617.7" font-size="12.5" fill="#333333" textLength="44.7" lengthAdjust="spacingAndGlyphs">PGea(r)</text>
<line x1="862.5" y1="613.0" x2="884.5" y2="613.0" stroke="#d488e0" stroke-width="2.0" stroke-dasharray="4 2"/>
<text x="888.9" y="617.7" font-size="12.5" fill="#333333" textLength="46.2" lengthAdjust="spacingAndGlyphs">PGve(s)</text>
<line x1="344.5" y1="639.0" x2="369.5" y2="639.0" stroke="#22aa66" stroke-width="2.0"/>
<text x="372.9" y="643.7" font-size="12.5" fill="#333333" textLength="30.7" lengthAdjust="spacingAndGlyphs">LG(c)</text>
<line x1="432.5" y1="639.0" x2="454.5" y2="639.0" stroke="#88ccaa" stroke-width="2.0" stroke-dasharray="4 2"/>
<text x="458.9" y="643.7" font-size="12.5" fill="#333333" textLength="30.7" lengthAdjust="spacingAndGlyphs">LG(s)</text>
<line x1="516.5" y1="639.0" x2="541.5" y2="639.0" stroke="#ff0000" stroke-width="2.0"/>
<text x="544.9" y="643.7" font-size="12.5" fill="#333333" textLength="50.7" lengthAdjust="spacingAndGlyphs">PGme(c)</text>
<line x1="602.5" y1="639.0" x2="627.5" y2="639.0" stroke="#1030e0" stroke-width="2.0"/>
<text x="630.9" y="643.7" font-size="12.5" fill="#333333" textLength="45.7" lengthAdjust="spacingAndGlyphs">PGea(c)</text>
<line x1="690.5" y1="639.0" x2="712.5" y2="639.0" stroke="#cc66dd" stroke-width="2.0" stroke-dasharray="4 2 10 2 4 40"/>
<text x="716.9" y="643.7" font-size="12.5" fill="#333333" textLength="44.7" lengthAdjust="spacingAndGlyphs">PGve(r)</text>
<line x1="776.5" y1="639.0" x2="798.5" y2="639.0" stroke="#e66e6e" stroke-width="2.0" stroke-dasharray="4 2"/>
<text x="802.9" y="643.7" font-size="12.5" fill="#333333" textLength="50.7" lengthAdjust="spacingAndGlyphs">PGme(s)</text>
<line x1="862.5" y1="639.0" x2="884.5" y2="639.0" stroke="#4a8ad8" stroke-width="2.0" stroke-dasharray="4 2"/>
<text x="888.9" y="643.7" font-size="12.5" fill="#333333" textLength="46.2" lengthAdjust="spacingAndGlyphs">PGea(s)</text>
</svg></body></html>
